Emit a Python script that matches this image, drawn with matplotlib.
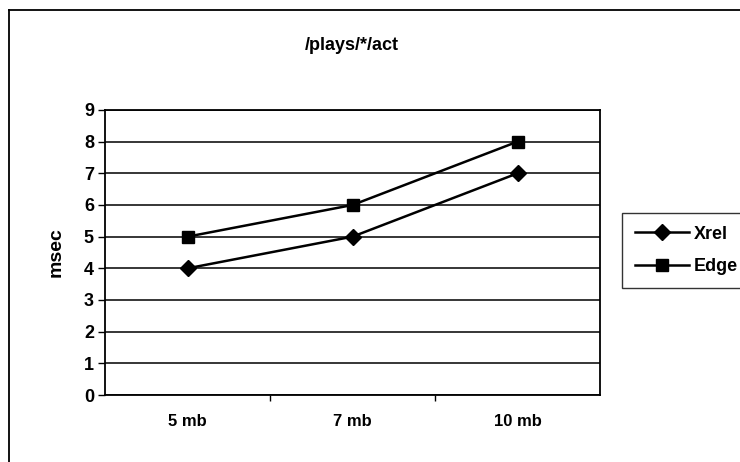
import matplotlib.pyplot as plt
from matplotlib.lines import Line2D

categories = ["5 mb", "7 mb", "10 mb"]
xrel = [4, 5, 7]
edge = [5, 6, 8]
yticks = [0, 1, 2, 3, 4, 5, 6, 7, 8, 9]

plt.rcParams['font.family'] = ['Liberation Sans', 'DejaVu Sans']
plt.rcParams['font.weight'] = 'bold'

fig = plt.figure(figsize=(7.4, 4.62), dpi=100)
# outer chart border (only top and left are inside the scan)
fig.lines.append(Line2D([9/740, 9/740], [0, 1 - 10/462], transform=fig.transFigure, color='black', linewidth=1.3))
fig.lines.append(Line2D([9/740, 1], [1 - 10/462, 1 - 10/462], transform=fig.transFigure, color='black', linewidth=1.3))

ax = fig.add_axes([105/740, 1 - 395/462, 495/740, 285/462])
xs = list(range(len(categories)))
ax.plot(xs, xrel, color='black', linewidth=1.8, marker='D', markersize=8, label='Xrel')
ax.plot(xs, edge, color='black', linewidth=1.8, marker='s', markersize=8, label='Edge')

ax.set_xlim(-0.5, len(categories) - 0.5)
ax.set_ylim(0, 9)
ax.set_yticks(yticks)
ax.set_yticklabels([str(v) for v in yticks], fontsize=13, fontweight='bold')
ax.set_xticks(xs)
ax.set_xticklabels(categories, fontsize=12, fontweight='bold')
ax.tick_params(axis='x', length=0, pad=14)
ax.set_xticks([0.5, 1.5], minor=True)
ax.tick_params(axis='x', which='minor', length=4, width=1, direction='out')
ax.tick_params(axis='y', length=5, width=1, direction='out', pad=3)
ax.yaxis.grid(True, color='black', linewidth=1.1)
ax.set_axisbelow(True)
for s in ax.spines.values():
    s.set_linewidth(1.3)
ax.set_ylabel('msec', fontsize=14, fontweight='bold', labelpad=14)

fig.text(352/740, 1 - 46/462, '/plays/*/act', ha='center', va='center', fontsize=13, fontweight='bold')

leg = ax.legend(loc='upper left', bbox_to_anchor=(622/740, 1 - 213/462), bbox_transform=fig.transFigure,
                frameon=True, fancybox=False, edgecolor='black', fontsize=13, handlelength=3.0,
                borderaxespad=0, borderpad=0.7, labelspacing=0.85, handletextpad=0.3)
leg.get_frame().set_linewidth(1.0)
for t in leg.get_texts():
    t.set_fontweight('bold')

fig.savefig('out.png', dpi=100)
